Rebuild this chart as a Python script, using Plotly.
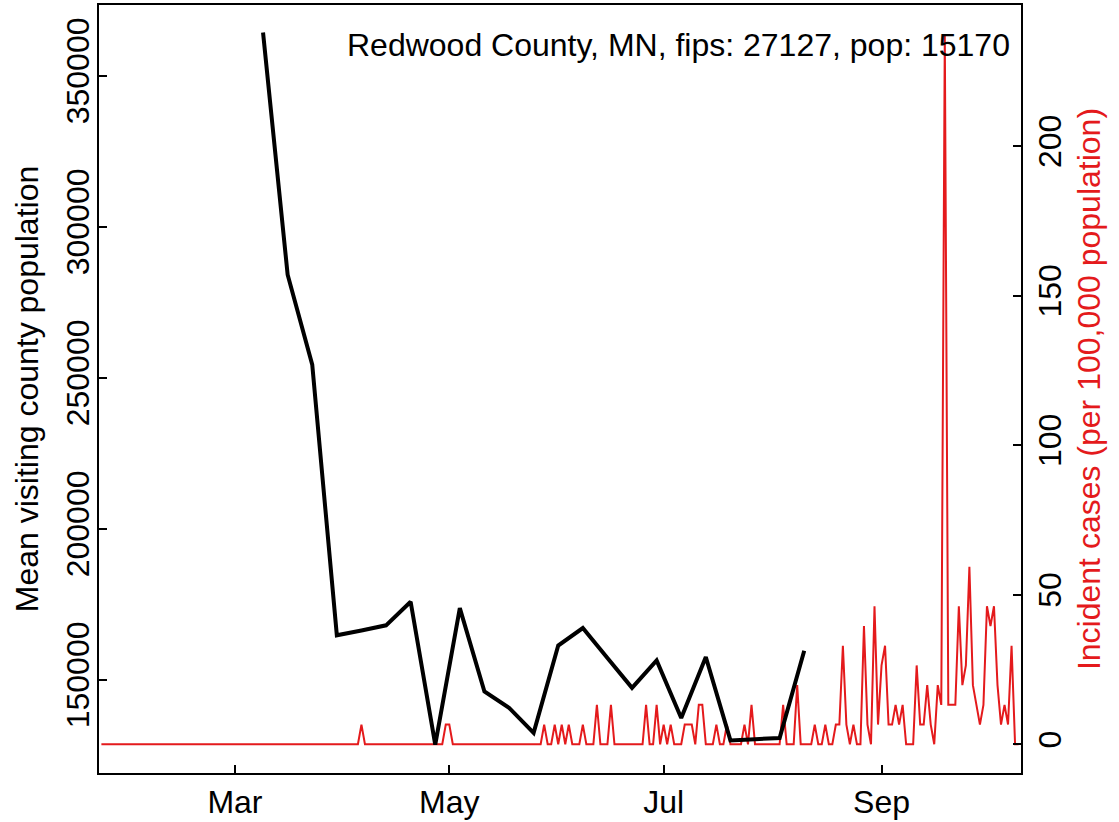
import pandas as pd
import plotly.graph_objects as go

# ---------------- data ----------------
# Weekly mean visiting county population (black line), Mondays from 2020-03-09
visit_dates = pd.date_range("2020-03-09", periods=23, freq="7D")
visit_values = [364300, 284100, 254300, 164700, 166300, 168000, 175800, 128500,
                173700, 146100, 140700, 132400, 161300, 167100, 157200, 147300,
                156400, 137300, 157500, 129900, 130300, 130700, 159600]

# Daily incident cases per 100,000 population (red line), 2020-01-23 .. 2020-10-10
case_dates = pd.date_range("2020-01-23", "2020-10-10", freq="D")
cases_jan = [0, 0, 0, 0, 0, 0, 0, 0, 0]
cases_feb = [0, 0, 0, 0, 0, 0, 0, 0, 0, 0, 0, 0, 0, 0, 0, 0, 0, 0, 0, 0,
             0, 0, 0, 0, 0, 0, 0, 0, 0]
cases_mar = [0, 0, 0, 0, 0, 0, 0, 0, 0, 0, 0, 0, 0, 0, 0, 0, 0, 0, 0, 0,
             0, 0, 0, 0, 0, 0, 0, 0, 0, 0, 0]
cases_apr = [0, 0, 0, 0, 0, 6.59, 0, 0, 0, 0, 0, 0, 0, 0, 0, 0, 0, 0, 0, 0,
             0, 0, 0, 0, 0, 0, 0, 0, 0, 6.59]
cases_may = [6.59, 0, 0, 0, 0, 0, 0, 0, 0, 0, 0, 0, 0, 0, 0, 0, 0, 0, 0, 0,
             0, 0, 0, 0, 0, 0, 0, 6.59, 0, 0, 6.59]
cases_jun = [0, 6.59, 0, 6.59, 0, 0, 0, 6.59, 0, 0, 0, 13.18, 0, 0, 0, 13.18,
             0, 0, 0, 0, 0, 0, 0, 0, 0, 13.18, 0, 0, 13.18, 0]
cases_jul = [6.59, 0, 6.59, 0, 0, 0, 6.59, 6.59, 6.59, 0, 13.18, 13.18, 0, 0, 0,
             6.59, 0, 0, 6.59, 0, 0, 0, 0, 6.59, 0, 13.18, 0, 0, 0, 0, 0]
cases_aug = [0, 0, 0, 13.18, 0, 0, 0, 19.78, 0, 0, 0, 0, 6.59, 0, 0, 6.59, 0, 0,
             6.59, 6.59, 32.96, 6.59, 0, 6.59, 0, 0, 39.55, 6.59, 0, 46.14, 6.59]
cases_sep = [26.37, 32.96, 6.59, 6.59, 13.18, 6.59, 13.18, 0, 0, 0, 26.37, 6.59,
             6.59, 19.78, 6.59, 0, 19.78, 13.18, 237.31, 13.18, 13.18, 13.18,
             46.14, 19.78, 26.37, 59.33, 19.78, 13.18, 6.59, 13.18]
cases_oct = [46.14, 39.55, 46.14, 19.78, 6.59, 13.18, 6.59, 32.96, 0, 0]
case_values = (cases_jan + cases_feb + cases_mar + cases_apr + cases_may +
               cases_jun + cases_jul + cases_aug + cases_sep + cases_oct)

month_ticks = ["2020-03-01", "2020-05-01", "2020-07-01", "2020-09-01"]
month_labels = ["Mar", "May", "Jul", "Sep"]
left_ticks = [150000, 200000, 250000, 300000, 350000]
right_ticks = [0, 50, 100, 150, 200]

title_text = "Redwood County, MN, fips: 27127, pop: 15170"

# ---------------- figure ----------------
RED = "#E41A1C"
FONT = "Liberation Sans, Arial, Helvetica, sans-serif"
FS = 32

fig = go.Figure()
fig.add_trace(go.Scatter(x=case_dates, y=case_values, mode="lines",
                         line=dict(color=RED, width=2), yaxis="y",
                         showlegend=False, hoverinfo="skip"))
fig.add_trace(go.Scatter(x=visit_dates, y=visit_values, mode="lines",
                         line=dict(color="black", width=4), yaxis="y2",
                         showlegend=False, hoverinfo="skip"))

fig.update_layout(
    width=1119, height=822,
    margin=dict(l=99, r=98, t=5, b=49, autoexpand=False),
    paper_bgcolor="white", plot_bgcolor="white",
    font=dict(family=FONT, size=FS, color="black"),
    xaxis=dict(type="date",
               range=["2020-01-22 07:40", "2020-10-10 16:30"],
               tickvals=month_ticks, ticktext=month_labels,
               ticks="inside", ticklen=8, tickwidth=2, tickcolor="black",
               showline=True, linewidth=2, linecolor="black", mirror=True,
               showgrid=False, zeroline=False,
               tickfont=dict(size=FS, color="black")),
    yaxis=dict(side="right", range=[-9.6, 247.2],
               tickvals=right_ticks, ticktext=[str(v) for v in right_ticks],
               tickangle=-90,
               ticks="inside", ticklen=8, tickwidth=2, tickcolor="black",
               showline=True, linewidth=2, linecolor="black",
               showgrid=False, zeroline=False,
               tickfont=dict(size=FS, color="black"),
               title=dict(text="Incident cases (per 100,000 population)",
                          font=dict(size=FS, color=RED), standoff=10)),
    yaxis2=dict(side="left", overlaying="y", range=[119100, 373400],
                tickvals=left_ticks, ticktext=[str(v) for v in left_ticks],
                tickangle=-90, ticklabelstandoff=-5,
                ticks="inside", ticklen=8, tickwidth=2, tickcolor="black",
                showline=True, linewidth=2, linecolor="black",
                showgrid=False, zeroline=False,
                tickfont=dict(size=FS, color="black"),
                title=dict(text="Mean visiting county population",
                           font=dict(size=FS, color="black"), standoff=12)),
    annotations=[dict(text=title_text, xref="paper", yref="paper",
                      x=0.990, y=0.948, xanchor="right", yanchor="middle",
                      showarrow=False, font=dict(size=FS, color="black"))],
)

fig.write_html("out.html",
               config={"displayModeBar": False},
               post_script="document.body.style.margin='0';"
                           "document.body.style.overflow='hidden';")
